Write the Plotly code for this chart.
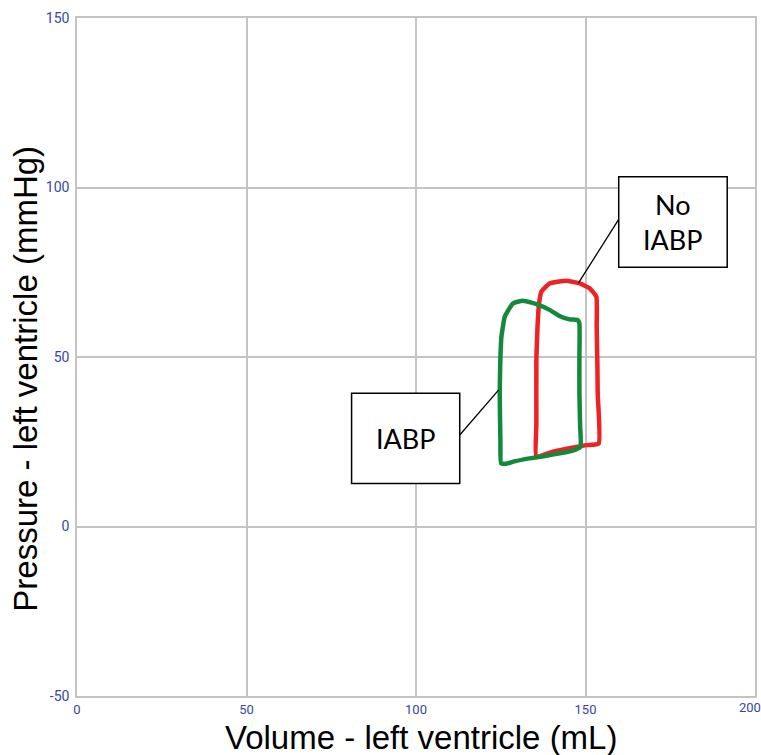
import plotly.graph_objects as go

# IABP loop (green)
iabp_volume = [125.1, 124.9, 124.7, 124.9, 125.2, 126.2, 128.6, 131.5, 135.5, 139.4, 142.3, 145.3, 147.7,
               148.2, 148.2, 148.2, 148.4, 148.5, 146.0, 142.4, 138.0, 133.5, 129.0, 126.5, 125.1]
iabp_pressure = [18.6, 25.0, 39.3, 50.0, 56.0, 61.9, 65.8, 66.6, 65.6, 63.9, 62.1, 61.1, 60.9,
                 59.9, 50.0, 39.3, 30.0, 23.5, 22.3, 21.6, 20.8, 20.1, 19.2, 18.5, 18.6]

# No IABP loop (red)
noiabp_volume = [135.5, 135.5, 135.5, 135.8, 136.3, 137.0, 139.4, 144.3, 148.3, 151.2, 153.2,
                 153.3, 153.5, 153.6, 153.9, 150.2, 145.3, 140.4, 135.5]
noiabp_pressure = [20.6, 30.0, 49.1, 58.0, 65.8, 69.3, 71.7, 72.5, 71.7, 70.3, 67.8,
                   58.9, 48.0, 39.3, 24.5, 24.0, 23.1, 22.1, 20.6]

x_ticks = [0, 50, 100, 150, 200]
x_tick_labels = ["0", "50", "100", "150", "200"]
y_ticks = [-50, 0, 50, 100, 150]
y_tick_labels = ["-50", "0", "50", "100", "150"]

# Callout labels: box extents (volume, pressure) and leader lines
label_no_iabp = "No<br>IABP"
box_no_iabp = [159.8, 76.5, 191.8, 103.2]
leader_no_iabp = [147.9, 71.8, 159.8, 90.6]
label_iabp = "IABP"
box_iabp = [81.0, 12.7, 112.9, 39.3]
leader_iabp = [112.9, 27.0, 124.4, 40.3]

GREEN = "#13893b"
RED = "#ee2222"
TICK = "#3846a4"
GRID = "#c4c4c4"
TICK_FONT = dict(family="Roboto", size=14, color=TICK)
XTICK_FONT = dict(family="Roboto", size=13, color=TICK)

fig = go.Figure()
fig.add_trace(go.Scatter(x=noiabp_volume, y=noiabp_pressure, mode="lines",
                         line=dict(color=RED, width=4.5, shape="spline", smoothing=0.4),
                         showlegend=False, hoverinfo="skip"))
fig.add_trace(go.Scatter(x=iabp_volume, y=iabp_pressure, mode="lines",
                         line=dict(color=GREEN, width=4.5, shape="spline", smoothing=0.4),
                         showlegend=False, hoverinfo="skip"))

for box in (box_no_iabp, box_iabp):
    fig.add_shape(type="rect", x0=box[0], y0=box[1], x1=box[2], y1=box[3],
                  line=dict(color="black", width=1.5), fillcolor="white", layer="above")
for ld in (leader_no_iabp, leader_iabp):
    fig.add_shape(type="line", x0=ld[0], y0=ld[1], x1=ld[2], y1=ld[3],
                  line=dict(color="black", width=1.3), layer="above")

fig.add_annotation(x=(box_no_iabp[0] + box_no_iabp[2]) / 2, y=(box_no_iabp[1] + box_no_iabp[3]) / 2,
                   text=label_no_iabp, showarrow=False,
                   font=dict(family="Lato", size=27, color="black"))
fig.add_annotation(x=(box_iabp[0] + box_iabp[2]) / 2, y=(box_iabp[1] + box_iabp[3]) / 2,
                   text=label_iabp, showarrow=False,
                   font=dict(family="Lato", size=27, color="black"))

# last x tick label sits on the right edge (plotly drops it), draw it explicitly
fig.add_annotation(x=x_ticks[-1], xref="x", yref="paper", y=0.0, yshift=-2, xshift=-5,
                   text=x_tick_labels[-1], showarrow=False, xanchor="center", yanchor="top",
                   font=XTICK_FONT)

# Axis titles
fig.add_annotation(xref="paper", yref="paper", x=0.508, y=0.0,
                   yshift=-41, text="Volume - left ventricle (mL)", showarrow=False,
                   yanchor="middle", xanchor="center",
                   font=dict(family="Liberation Sans, Arial", size=33, color="black"))
fig.add_annotation(xref="paper", yref="paper", x=0.0, xshift=-51, y=0.468,
                   text="Pressure - left ventricle (mmHg)", showarrow=False, textangle=-90,
                   xanchor="center", yanchor="middle",
                   font=dict(family="Liberation Sans, Arial", size=33, color="black"))

fig.update_xaxes(range=[0, 200], tickvals=x_ticks, ticktext=x_tick_labels, showgrid=True,
                 gridcolor=GRID, gridwidth=1.5, automargin=False,
                 zeroline=False, showline=True, linecolor=GRID, linewidth=1.5, mirror=True,
                 tickfont=XTICK_FONT, ticks="", ticklabelstandoff=1)
fig.update_yaxes(range=[-50, 150], tickvals=y_ticks, ticktext=y_tick_labels, showgrid=True,
                 gridcolor=GRID, gridwidth=1.5, automargin=False,
                 zeroline=False, showline=True, linecolor=GRID, linewidth=1.5, mirror=True,
                 tickfont=TICK_FONT, ticks="", ticklabelstandoff=3)

fig.update_layout(width=761, height=755, margin=dict(l=77, r=6, t=18, b=59),
                  plot_bgcolor="white", paper_bgcolor="white")

fig.write_html("out.html", config={"displayModeBar": False},
               post_script="document.body.style.margin='0';document.body.style.overflow='hidden';")
